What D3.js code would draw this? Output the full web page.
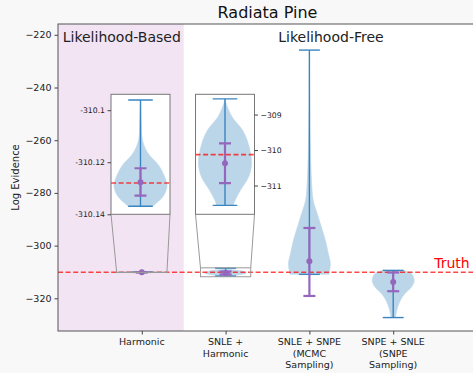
<!DOCTYPE html>
<html>
<meta charset=utf-8>
<title>Radiata Pine</title>
<style>
    body { margin: 0; background: #f8f8f8; }
    svg { display: block; font-family: "DejaVu Sans", sans-serif; }
</style>
<svg id=chart width=473 height=373></svg>
<script src=https://d3js.org/d3.v7.min.js></script>
<script>
// data
var categories = ["Harmonic", "SNLE +\nHarmonic", "SNLE + SNPE\n(MCMC\nSampling)", "SNPE + SNLE\n(SNPE\nSampling)"];
var yTicks = [-220, -240, -260, -280, -300, -320];
var truth = -310.128;

// violin outlines: value along the axis, relative density
var profileValues = [
    [-310.0961, -310.105, -310.1114, -310.1164, -310.1216, -310.1267, -310.1292, -310.133, -310.1362, -310.1369],
    [-308.56, -308.68, -309.06, -309.43, -309.81, -310.37, -310.75, -311.12, -311.40, -311.56],
    [-225.8, -244.8, -263.8, -275.2, -282.8, -287.8, -292.9, -298.0, -303.0, -306.8, -310.0, -310.9],
    [-309.4, -310.6, -313.2, -315.7, -318.2, -320.8, -323.9, -326.5, -327.3]
];
var profileDensity = [
    [0, 0.03, 0.07, 0.27, 0.71, 0.95, 1.0, 0.86, 0.54, 0.45],
    [0, 0.04, 0.26, 0.65, 0.87, 1.0, 0.89, 0.59, 0.39, 0.31],
    [0, 0.015, 0.05, 0.1, 0.18, 0.37, 0.57, 0.76, 0.9, 1.0, 0.95, 0.93],
    [0.5, 0.87, 1.0, 0.87, 0.56, 0.34, 0.19, 0.12, 0.1]
];
var minValues = [-310.1369, -311.56, -310.9, -327.3];
var maxValues = [-310.0961, -308.56, -225.8, -309.4];
var means = [-310.1277, -310.37, -305.9, -313.8];
var stdLow = [-310.1328, -310.93, -319.1, -317.3];
var stdHigh = [-310.1223, -309.81, -293.3, -310.2];

// zoomed insets: which violin, its y range and tick labels
var insetIndex = [0, 1];
var insetYLow = [-310.14, -311.81];
var insetYHigh = [-310.0939, -308.43];
var insetTicks = [[-310.1, -310.12, -310.14], [-309, -310, -311]];
var insetTickText = [["-310.1", "-310.12", "-310.14"], ["\u2212309", "\u2212310", "\u2212311"]];

var blue = "#3a85c0", purple = "#9467bd", body = "#bcd6e9", red = "rgba(255,0,0,0.72)";

var svg = d3.select("#chart");
var plotLeft = 58, plotRight = 477, plotTop = 24, plotBottom = 331;

var x = d3.scaleLinear().domain([0, 5]).range([plotLeft, plotRight]);
var y = d3.scaleLinear().domain([-332.4, -215.9]).range([plotBottom, plotTop]);

svg.append("rect").attr("x", 0).attr("y", 0).attr("width", 473).attr("height", 373).attr("fill", "#f8f8f8");
svg.append("rect").attr("x", plotLeft).attr("y", plotTop).attr("width", plotRight - plotLeft).attr("height", plotBottom - plotTop).attr("fill", "#fff");

// likelihood-based band
svg.append("rect")
    .attr("x", x(0)).attr("y", plotTop)
    .attr("width", x(1.5) - x(0)).attr("height", plotBottom - plotTop)
    .attr("fill", "#f3e4f4");

// draws violins, extrema and mean +/- std for the given indices
function drawViolins(g, xs, ys, idx, halfWidth) {
    idx.forEach(function (i) {
        var pos = i + 1;
        var pts = profileValues[i].map(function (v, k) { return {v: v, w: profileDensity[i][k]}; });
        var area = d3.area()
            .curve(d3.curveCatmullRom)
            .y(function (d) { return ys(d.v); })
            .x0(function (d) { return xs(pos - d.w * halfWidth); })
            .x1(function (d) { return xs(pos + d.w * halfWidth); });
        g.append("path").attr("d", area(pts)).attr("fill", body).attr("stroke", body).attr("stroke-width", 0.6);
    });
    g.append("line")
        .attr("x1", xs.range()[0]).attr("x2", xs.range()[1])
        .attr("y1", ys(truth)).attr("y2", ys(truth))
        .attr("stroke", red).attr("stroke-width", 1.6).attr("stroke-dasharray", "5,2.6");
    idx.forEach(function (i) {
        var pos = i + 1, cx = xs(pos);
        g.append("line").attr("x1", cx).attr("x2", cx)
            .attr("y1", ys(maxValues[i])).attr("y2", ys(minValues[i]))
            .attr("stroke", blue).attr("stroke-width", 1.4);
        [minValues[i], maxValues[i]].forEach(function (v) {
            g.append("line").attr("x1", xs(pos - 0.125)).attr("x2", xs(pos + 0.125))
                .attr("y1", ys(v)).attr("y2", ys(v))
                .attr("stroke", blue).attr("stroke-width", 1.4);
        });
        g.append("line").attr("x1", cx).attr("x2", cx)
            .attr("y1", ys(stdHigh[i])).attr("y2", ys(stdLow[i]))
            .attr("stroke", purple).attr("stroke-width", 2.2);
        [stdLow[i], stdHigh[i]].forEach(function (v) {
            g.append("line").attr("x1", cx - 6).attr("x2", cx + 6)
                .attr("y1", ys(v)).attr("y2", ys(v))
                .attr("stroke", purple).attr("stroke-width", 2.2);
        });
        g.append("circle").attr("cx", cx).attr("cy", ys(means[i])).attr("r", 3).attr("fill", purple);
    });
}

svg.append("clipPath").attr("id", "clip-main")
    .append("rect").attr("x", plotLeft).attr("y", plotTop).attr("width", plotRight - plotLeft).attr("height", plotBottom - plotTop);
var gMain = svg.append("g").attr("clip-path", "url(#clip-main)");
drawViolins(gMain, x, y, [0, 1, 2, 3], 0.25);

// frame
svg.append("rect").attr("x", plotLeft).attr("y", plotTop).attr("width", plotRight - plotLeft).attr("height", plotBottom - plotTop)
    .attr("fill", "none").attr("stroke", "#555").attr("stroke-width", 1);

// axes
var yAxis = svg.append("g").attr("transform", "translate(" + plotLeft + ",0)")
    .call(d3.axisLeft(y).tickValues(yTicks).tickSize(3.5).tickPadding(3)
        .tickFormat(function (d) { return String(d).replace("-", "\u2212"); }));
yAxis.select(".domain").remove();
yAxis.selectAll("text").attr("font-size", 9.5).attr("fill", "#222").attr("font-family", "DejaVu Sans");
yAxis.selectAll("line").attr("stroke", "#444");

var xAxis = svg.append("g").attr("transform", "translate(0," + plotBottom + ")")
    .call(d3.axisBottom(x).tickValues([1, 2, 3, 4]).tickSize(3.5).tickFormat(""));
xAxis.select(".domain").remove();
xAxis.selectAll("line").attr("stroke", "#444");
categories.forEach(function (c, i) {
    var t = svg.append("text").attr("x", x(i + 1)).attr("y", plotBottom + 14)
        .attr("text-anchor", "middle").attr("font-size", 9.5).attr("fill", "#222");
    c.split("\n").forEach(function (line, k) {
        t.append("tspan").attr("x", x(i + 1)).attr("dy", k === 0 ? 0 : 11.6).text(line);
    });
});

svg.append("text").attr("transform", "translate(18.5," + (plotTop + plotBottom) / 2 + ") rotate(-90)")
    .attr("text-anchor", "middle").attr("font-size", 10).attr("fill", "#222").text("Log Evidence");

svg.append("text").attr("x", (plotLeft + plotRight) / 2).attr("y", 18.3)
    .attr("text-anchor", "middle").attr("font-size", 16).attr("fill", "#111").text("Radiata Pine");

svg.append("text").attr("x", x(0.056)).attr("y", 41.7)
    .attr("font-size", 14).attr("fill", "#222").text("Likelihood-Based");
svg.append("text").attr("x", 278.3).attr("y", 41.7)
    .attr("font-size", 14).attr("fill", "#222").text("Likelihood-Free");
svg.append("text").attr("x", x(4.49)).attr("y", y(truth) - 4.3)
    .attr("font-size", 14).attr("fill", "red").text("Truth");

// insets
var insetLeft = [111, 195.5], insetW = 59, insetTop = 94.3, insetBottom = 214.3;
insetIndex.forEach(function (i, n) {
    var pos = i + 1;
    var ix = d3.scaleLinear().domain([pos - 0.3, pos + 0.3]).range([insetLeft[n], insetLeft[n] + insetW]);
    var iy = d3.scaleLinear().domain([insetYLow[n], insetYHigh[n]]).range([insetBottom, insetTop]);

    // zoom rectangle and connectors on the main axes
    var rx0 = x(pos - 0.3), rx1 = x(pos + 0.3), ry0 = y(insetYHigh[n]), ry1 = y(insetYLow[n]);
    svg.append("rect").attr("x", rx0).attr("y", ry0).attr("width", rx1 - rx0).attr("height", Math.max(ry1 - ry0, 0.3))
        .attr("fill", "none").attr("stroke", "#999").attr("stroke-width", 1);
    svg.append("line").attr("x1", ix.range()[0]).attr("y1", insetBottom).attr("x2", rx0).attr("y2", ry0)
        .attr("stroke", "#999").attr("stroke-width", 1);
    svg.append("line").attr("x1", ix.range()[1]).attr("y1", insetBottom).attr("x2", rx1).attr("y2", ry0)
        .attr("stroke", "#999").attr("stroke-width", 1);

    svg.append("rect").attr("x", ix.range()[0]).attr("y", insetTop).attr("width", insetW).attr("height", insetBottom - insetTop)
        .attr("fill", "#fff");
    svg.append("clipPath").attr("id", "clip-inset" + n)
        .append("rect").attr("x", ix.range()[0]).attr("y", insetTop).attr("width", insetW).attr("height", insetBottom - insetTop);
    var g = svg.append("g").attr("clip-path", "url(#clip-inset" + n + ")");
    drawViolins(g, ix, iy, [i], 0.27);
    svg.append("rect").attr("x", ix.range()[0]).attr("y", insetTop).attr("width", insetW).attr("height", insetBottom - insetTop)
        .attr("fill", "none").attr("stroke", "#777").attr("stroke-width", 1);

    var axis = n === 0 ? d3.axisLeft(iy) : d3.axisRight(iy);
    var ga = svg.append("g").attr("transform", "translate(" + (n === 0 ? ix.range()[0] : ix.range()[1]) + ",0)")
        .call(axis.tickValues(insetTicks[n]).tickSize(3.5).tickPadding(2.5)
            .tickFormat(function (d, k) { return insetTickText[n][k]; }));
    ga.select(".domain").remove();
    ga.selectAll("text").attr("font-size", 7.7).attr("fill", "#222").attr("font-family", "DejaVu Sans");
    ga.selectAll("line").attr("stroke", "#444");
});
</script>
